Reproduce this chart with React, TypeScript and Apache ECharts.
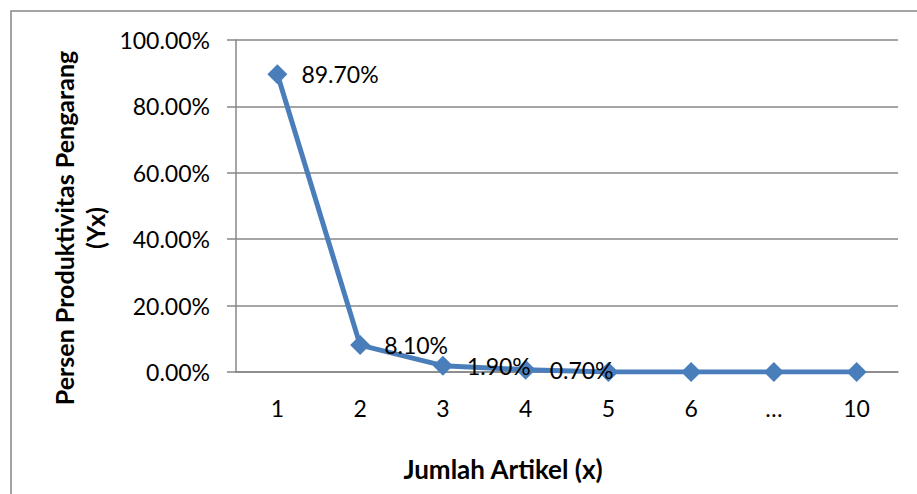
import React, { useEffect, useRef } from "react";
import * as echarts from "echarts";

const categories = ["1", "2", "3", "4", "5", "6", "…", "10"];
const percentValues = [89.7, 8.1, 1.9, 0.7, 0, 0, 0, 0];
const labeledPoints = [true, true, true, true, false, false, false, false];
const yTicks = { min: 0, max: 100, interval: 20 };
const xTitle = "Jumlah Artikel (x)";
const yTitle = "Persen Produktivitas Pengarang\n(Yx)";

const FONT = "Lato";
const GRAY = "#878787";
const BLUE = "#4A7EBB";

export default function App() {
  const ref = useRef<HTMLDivElement>(null);
  useEffect(() => {
    if (!ref.current) return;
    const chart = echarts.init(ref.current, undefined, { renderer: "svg" });
    chart.setOption({
      animation: false,
      backgroundColor: "#ffffff",
      grid: { left: 236, top: 40, right: 19, bottom: 122, containLabel: false },
      xAxis: {
        type: "category",
        data: categories,
        boundaryGap: true,
        axisLine: { show: true, lineStyle: { color: GRAY, width: 1.5 } },
        axisTick: { show: false },
        axisLabel: { color: "#000", fontFamily: FONT, fontSize: 23, margin: 24 },
        splitLine: { show: false },
      },
      yAxis: {
        type: "value",
        min: yTicks.min,
        max: yTicks.max,
        interval: yTicks.interval,
        axisLine: { show: true, lineStyle: { color: GRAY, width: 1.5 } },
        axisTick: { show: true, inside: false, length: 9, lineStyle: { color: GRAY, width: 1.5 } },
        axisLabel: {
          color: "#000",
          fontFamily: FONT,
          fontSize: 23,
          margin: 26,
          formatter: (v: number) => v.toFixed(2) + "%",
        },
        splitLine: { show: true, lineStyle: { color: GRAY, width: 1.5 } },
      },
      series: [
        {
          type: "line",
          data: percentValues.map((v, i) => ({ value: v, label: { show: labeledPoints[i] } })),
          symbol: "diamond",
          symbolSize: 20,
          showAllSymbol: true,
          lineStyle: { color: BLUE, width: 5 },
          itemStyle: { color: BLUE },
          label: {
            position: "right",
            distance: 14,
            color: "#000",
            fontFamily: FONT,
            fontSize: 23,
            formatter: (p: any) => Number(p.value).toFixed(2) + "%",
          },
          z: 3,
        },
      ],
      graphic: [
        {
          type: "rect",
          shape: { x: 11, y: 11, width: 1000, height: 700 },
          style: { fill: "none", stroke: GRAY, lineWidth: 1.5 },
          silent: true,
          z: -1,
        },
        {
          type: "text",
          x: 503,
          y: 469,
          style: {
            text: xTitle,
            fontFamily: FONT,
            fontSize: 26,
            fontWeight: "bold",
            fill: "#000",
            textAlign: "center",
            textVerticalAlign: "middle",
          },
        },
        {
          type: "text",
          x: 79,
          y: 228,
          rotation: Math.PI / 2,
          style: {
            text: yTitle,
            fontFamily: FONT,
            fontSize: 25,
            fontWeight: "bold",
            lineHeight: 31,
            fill: "#000",
            textAlign: "center",
            textVerticalAlign: "middle",
          },
        },
      ],
    });
    return () => chart.dispose();
  }, []);
  return (
    <div
      ref={ref}
      style={{ position: "fixed", left: 0, top: 0, width: 917, height: 494, background: "#fff" }}
    />
  );
}
